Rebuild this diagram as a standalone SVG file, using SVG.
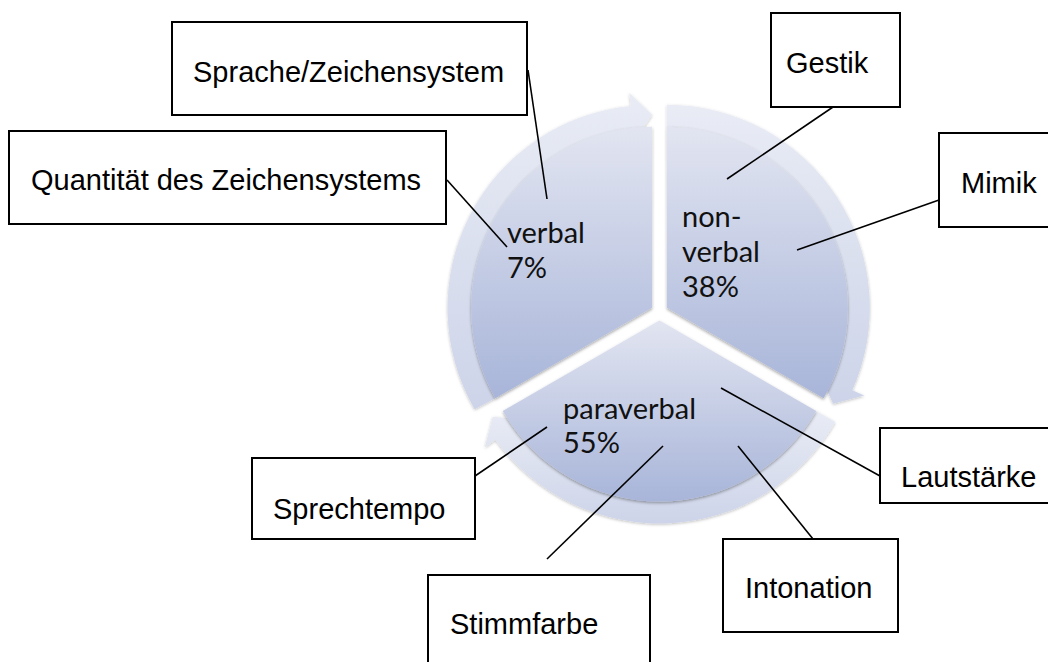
<svg xmlns="http://www.w3.org/2000/svg" width="1048" height="662" viewBox="0 0 1048 662">
  <defs>
    <linearGradient id="pieGrad" x1="0" y1="0" x2="0" y2="1">
      <stop offset="0" stop-color="#e2e5f1"/>
      <stop offset="1" stop-color="#a8b5d9"/>
    </linearGradient>
    <linearGradient id="ringGrad" x1="0" y1="0" x2="0" y2="1">
      <stop offset="0" stop-color="#e9ecf5"/>
      <stop offset="1" stop-color="#cdd4e9"/>
    </linearGradient>
    <filter id="shadow" x="-10%" y="-10%" width="120%" height="120%">
      <feDropShadow dx="0" dy="1.5" stdDeviation="1.6" flood-color="#000000" flood-opacity="0.35"/>
    </filter>
    <filter id="softShadow" x="-10%" y="-10%" width="120%" height="120%">
      <feDropShadow dx="0" dy="1" stdDeviation="1.5" flood-color="#000000" flood-opacity="0.25"/>
    </filter>
  </defs>
  <style>
    .box { fill: #ffffff; stroke: #000000; stroke-width: 2; }
    .boxText { font-family: "Liberation Sans", Arial, sans-serif; font-size: 29px; fill: #000000; }
    .pie { fill: url(#pieGrad); filter: url(#shadow); }
    .ring { fill: url(#ringGrad); filter: url(#softShadow); }
    .pieText { font-family: Lato, "Open Sans", sans-serif; font-size: 29px; fill: #111111; }
    .conn { stroke: #000000; stroke-width: 1.6; fill: none; }
  </style>
  <rect width="1048" height="662" fill="#ffffff"/>

  <g id="cycle">
    <g id="ring-verbal">
      <path class="ring" d="M 474.6 409.3 A 203 203 0 0 1 630.9 105.9 L 629.3 92.9 L 652.1 114.75 L 634.5 140.7 L 633.2 127.7 A 181 181 0 0 0 495.35 398.25 Z"/>
    </g>
    <g id="ring-nonverbal">
      <path class="ring" d="M 666.9 104.75 A 203 203 0 0 1 852.3 390.3 L 864.2 395.6 L 833.2 403.75 L 820.4 376.1 L 832.3 381.4 A 181 181 0 0 0 666.9 126.75 Z"/>
    </g>
    <g id="ring-paraverbal">
      <path class="ring" d="M 835.3 422 A 203 203 0 0 1 495.3 439.8 L 484.8 447.5 L 492.8 416.8 L 523.6 419.25 L 513.1 426.9 A 181 181 0 0 0 816.25 411 Z"/>
    </g>

    <g id="verbal">
      <path class="pie" d="M 652.1 307.75 L 652.1 126.75 A 181 181 0 0 0 495.35 398.25 Z"/>
      <text class="pieText" x="507" y="243">verbal</text>
      <text class="pieText" x="507" y="278">7%</text>
    </g>
    <g id="nonverbal">
      <path class="pie" d="M 666.9 307.75 L 666.9 126.75 A 181 181 0 0 1 823.65 398.25 Z"/>
      <text class="pieText" x="682" y="227">non-</text>
      <text class="pieText" x="682" y="262">verbal</text>
      <text class="pieText" x="682" y="297">38%</text>
    </g>
    <g id="paraverbal">
      <path class="pie" d="M 659.5 320.5 L 816.25 411 A 181 181 0 0 1 502.75 411 Z"/>
      <text class="pieText" x="563" y="419">paraverbal</text>
      <text class="pieText" x="563" y="453">55%</text>
    </g>
  </g>

  <g id="connectors">
    <line class="conn" x1="528" y1="70" x2="547" y2="199"/>
    <line class="conn" x1="447" y1="180" x2="507" y2="247"/>
    <line class="conn" x1="833" y1="107" x2="727" y2="179"/>
    <line class="conn" x1="939" y1="200" x2="797" y2="250"/>
    <line class="conn" x1="880" y1="476" x2="721" y2="388"/>
    <line class="conn" x1="813" y1="539" x2="738" y2="446"/>
    <line class="conn" x1="475" y1="476" x2="547" y2="427"/>
    <line class="conn" x1="547" y1="559" x2="663" y2="446"/>
  </g>

  <g id="box-sprache">
    <rect class="box" x="172" y="22" width="355" height="93"/>
    <text class="boxText" x="193" y="82">Sprache/Zeichensystem</text>
  </g>
  <g id="box-quantitaet">
    <rect class="box" x="9" y="131" width="437" height="93"/>
    <text class="boxText" x="31" y="190">Quantität des Zeichensystems</text>
  </g>
  <g id="box-gestik">
    <rect class="box" x="771" y="13" width="129" height="94"/>
    <text class="boxText" x="786" y="73">Gestik</text>
  </g>
  <g id="box-mimik">
    <rect class="box" x="939" y="133" width="120" height="94"/>
    <text class="boxText" x="961" y="193">Mimik</text>
  </g>
  <g id="box-lautstaerke">
    <rect class="box" x="880" y="428" width="180" height="75"/>
    <text class="boxText" x="901" y="487">Lautstärke</text>
  </g>
  <g id="box-intonation">
    <rect class="box" x="723" y="539" width="175" height="93"/>
    <text class="boxText" x="745" y="598">Intonation</text>
  </g>
  <g id="box-sprechtempo">
    <rect class="box" x="252" y="458" width="223" height="81"/>
    <text class="boxText" x="273" y="519">Sprechtempo</text>
  </g>
  <g id="box-stimmfarbe">
    <rect class="box" x="428" y="575" width="222" height="100"/>
    <text class="boxText" x="450" y="634">Stimmfarbe</text>
  </g>
</svg>
